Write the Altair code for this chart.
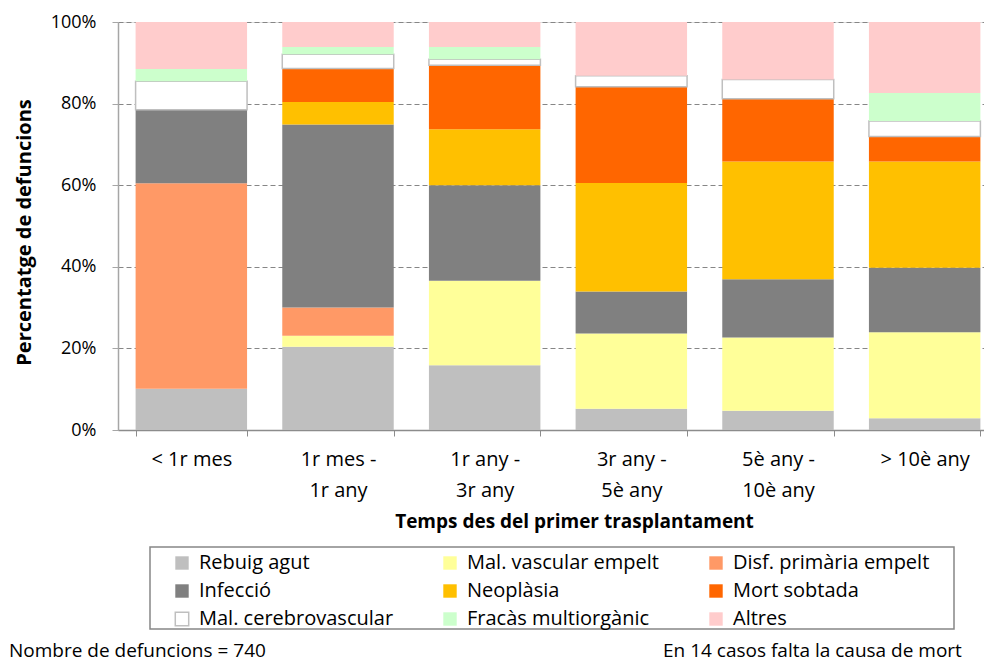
import altair as alt
import pandas as pd

categories = ["< 1r mes", "1r mes -|1r any", "1r any -|3r any", "3r any  -|5è any", "5è any -|10è any", "> 10è any"]
causes = ["Rebuig agut", "Mal. vascular empelt", "Disf. primària empelt",
          "Infecció", "Neoplàsia", "Mort sobtada",
          "Mal. cerebrovascular", "Fracàs multiorgànic", "Altres"]
colors = ["#bfbfbf", "#ffff99", "#ff9966",
          "#808080", "#ffc000", "#ff6600",
          "#ffffff", "#ccffcc", "#ffcccc"]
strokes = ["transparent", "transparent", "transparent",
           "transparent", "transparent", "transparent",
           "#bfbfbf", "transparent", "transparent"]

# percentage of deaths per cause, one value per period
rebuig_agut = [10.1, 20.4, 15.9, 5.2, 4.7, 2.9]
mal_vascular = [0.0, 2.7, 20.7, 18.5, 18.0, 21.1]
disf_primaria = [50.4, 6.9, 0.0, 0.0, 0.0, 0.0]
infeccio = [18.0, 44.9, 23.4, 10.3, 14.3, 15.8]
neoplasia = [0.0, 5.5, 13.7, 26.6, 28.9, 26.1]
mort_sobtada = [0.0, 8.2, 15.7, 23.6, 15.4, 6.1]
mal_cerebro = [7.0, 3.5, 1.5, 2.7, 4.7, 3.8]
fracas = [3.0, 1.8, 3.0, 0.0, 0.0, 6.9]
altres = [11.5, 6.1, 6.1, 13.2, 14.1, 17.4]

series = [rebuig_agut, mal_vascular, disf_primaria, infeccio, neoplasia,
          mort_sobtada, mal_cerebro, fracas, altres]

rows = []
for ci, (cause, vals) in enumerate(zip(causes, series)):
    for cat, v in zip(categories, vals):
        rows.append({"periode": cat, "causa": cause, "valor": v, "ordre": ci})
df = pd.DataFrame(rows)

note_left = "Nombre de defuncions = 740"
note_right = "En 14 casos falta la causa de mort"

FONT = "Open Sans"
FS = 20
FS_TITLE = 19
FS_NUM = 18

legend = alt.Legend(
    title=None, orient="none", legendX=54, legendY=531, columns=3,
    direction="horizontal", symbolType="square", symbolSize=180,
    labelFont=FONT, labelFontSize=FS, labelColor="black", labelLimit=400,
    gridAlign="each", columnPadding=46, rowPadding=8, labelOffset=7, padding=0,
    symbolStrokeWidth=1.5,
)

bars = alt.Chart(df).mark_bar(strokeWidth=1.5).encode(
    x=alt.X("periode:N", sort=categories,
            scale=alt.Scale(range=[0, 880], paddingInner=0.24, paddingOuter=0.12),
            axis=alt.Axis(
                title="Temps des del primer trasplantament",
                titleFont=FONT, titleFontSize=FS_TITLE, titleFontWeight="bold", titleColor="black",
                titleX=456, titleY=91, titleBaseline="middle", titleAlign="center",
                labelExpr="split(datum.label, '|')", labelLineHeight=31,
                labelFont=FONT, labelFontSize=FS, labelColor="black", labelAngle=0,
                labelPadding=13, labelBaseline="top",
                tickBand="extent", tickSize=6, tickColor="#8c8c8c",
                domainColor="#8c8c8c", domainWidth=1.5, grid=False)),
    y=alt.Y("valor:Q", stack="normalize",
            scale=alt.Scale(domain=[0, 1], nice=False),
            axis=alt.Axis(
                title="Percentatge de defuncions", format=".0%",
                values=[0, 0.2, 0.4, 0.6, 0.8, 1.0],
                titleFont=FONT, titleFontSize=FS_TITLE + 1, titleFontWeight="bold", titleColor="black",
                titleX=-94, titleY=210, titleAngle=270, titleAlign="center", titleBaseline="middle",
                labelFont=FONT, labelFontSize=FS_NUM, labelColor="black", labelPadding=16,
                tickSize=6, tickColor="#a6a6a6", domainColor="#a6a6a6", domainWidth=1.5,
                grid=True, gridColor="#868686", gridDash=[5, 3], gridWidth=1)),
    fill=alt.Fill("causa:N", scale=alt.Scale(domain=causes, range=colors), legend=legend),
    stroke=alt.Stroke("causa:N", scale=alt.Scale(domain=causes, range=strokes), legend=legend),
    order=alt.Order("ordre:Q", sort="ascending"),
)

frame_df = pd.DataFrame({"k": [0]})
frame = alt.Chart(frame_df).mark_rect(fill="transparent", stroke="#868686", strokeWidth=1.5).encode(
    x=alt.value(32), x2=alt.value(836), y=alt.value(525), y2=alt.value(607)
)

note1 = alt.Chart(pd.DataFrame({"t": [note_left]})).mark_text(
    align="left", baseline="middle", font=FONT, fontSize=FS - 1, color="black"
).encode(text="t:N", x=alt.value(-109), y=alt.value(629))
note2 = alt.Chart(pd.DataFrame({"t": [note_right]})).mark_text(
    align="left", baseline="middle", font=FONT, fontSize=FS - 1, color="black"
).encode(text="t:N", x=alt.value(545), y=alt.value(629))

chart = alt.layer(bars, frame, note1, note2).properties(
    width=866, height=408,
    autosize=alt.AutoSizeParams(type="none"),
    padding={"left": 110, "top": 14, "right": 0, "bottom": 234},
).configure_view(stroke=None).configure(background="white")

chart.save("out.html", embed_options={"renderer": "svg", "actions": False})
